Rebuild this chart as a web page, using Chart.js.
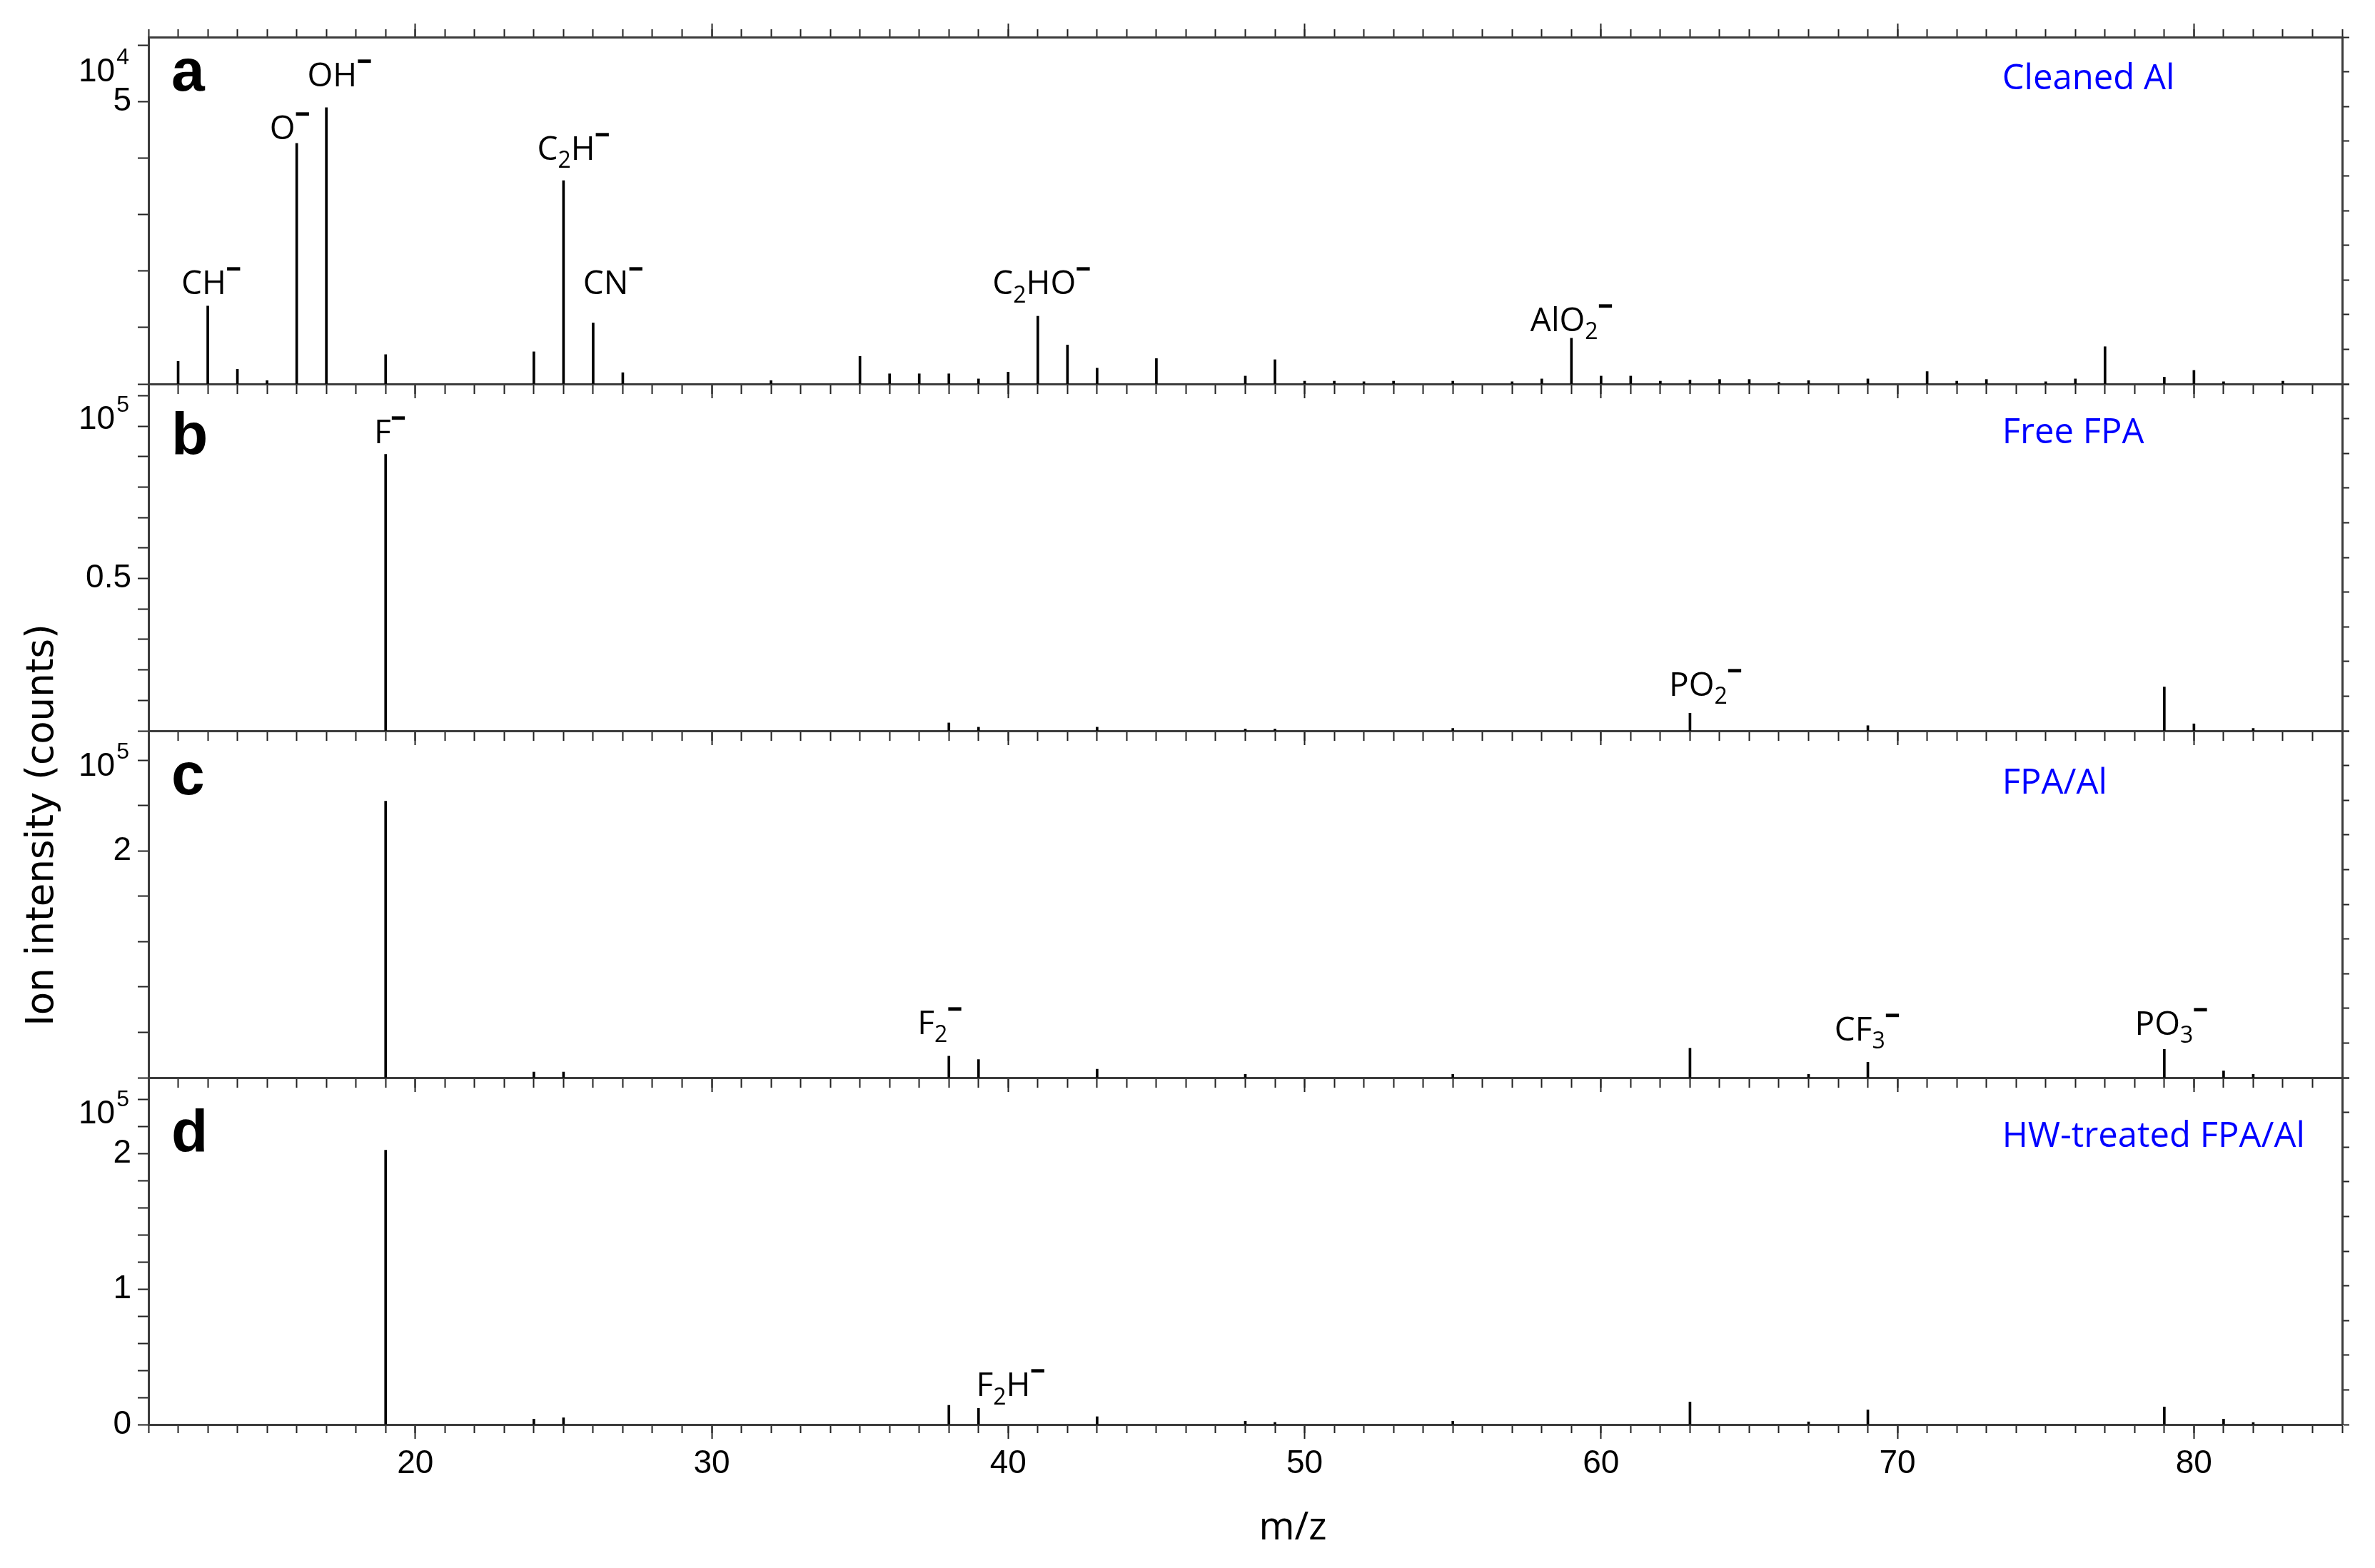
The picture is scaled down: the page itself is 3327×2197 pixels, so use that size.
<!DOCTYPE html>
<html>
<head>
<meta charset="utf-8">
<script src="https://cdn.jsdelivr.net/npm/chart.js@4.4.1/dist/chart.umd.min.js"></script>
<style>
html, body { margin: 0; padding: 0; background: #fff; }
canvas { display: block; }
</style>
</head>
<body>
<canvas id="mychart" width="3327" height="2197" style="width:3327px;height:2197px"></canvas>
<script>
// peaks of each spectrum: m/z and intensity (a in 10^4 counts, b-d in 10^5 counts)
var massA = [12,13,14,15,16,17,19,24,25,26,27,32,35,36,37,38,39,40,41,42,43,45,48,49,50,51,52,53,55,57,58,59,60,61,62,63,64,65,66,67,69,71,72,73,75,76,77,79,80,81,83];
var intA  = [0.40,1.38,0.26,0.06,4.26,4.89,0.52,0.57,3.60,1.08,0.20,0.06,0.49,0.18,0.18,0.18,0.09,0.21,1.20,0.69,0.28,0.45,0.14,0.43,0.05,0.05,0.04,0.05,0.05,0.04,0.09,0.81,0.14,0.14,0.05,0.07,0.08,0.08,0.03,0.06,0.09,0.22,0.05,0.08,0.04,0.09,0.66,0.12,0.24,0.04,0.05];

var massB = [19,38,39,43,48,49,55,63,69,79,80,82];
var intB  = [0.908,0.026,0.012,0.012,0.006,0.006,0.008,0.058,0.017,0.144,0.023,0.008];

var massC = [19,24,25,38,39,43,48,55,63,67,69,79,81,82];
var intC  = [2.44,0.05,0.05,0.19,0.16,0.075,0.03,0.03,0.26,0.03,0.136,0.25,0.06,0.03];

var massD = [19,24,25,38,39,43,48,49,55,63,67,69,79,81,82];
var intD  = [2.025,0.04,0.05,0.142,0.12,0.058,0.025,0.016,0.025,0.166,0.02,0.108,0.13,0.04,0.015];

// axes
var xMin = 11, xMax = 85;
var xLabels = [20, 30, 40, 50, 60, 70, 80];
var yMax = [6.14, 1.139, 3.06, 2.56];
var yStep = [1, 0.1, 0.4, 0.2];
var yLabels = [[5], [0.5], [2], [0, 1, 2]];
var yExponent = ['4', '5', '5', '5'];

// panel texts
var panelLetters = ['a', 'b', 'c', 'd'];
var sampleNames = ['Cleaned Al', 'Free FPA', 'FPA/Al', 'HW-treated FPA/Al'];

// peak assignments: text (_ = subscript, ^ = superscript), m/z and height where the label sits
var ionTextA = ['CH^-', 'O^-', 'OH^-', 'C_2H^-', 'CN^-', 'C_2HO^-', 'AlO_2^-'];
var ionMassA = [13.12, 15.77, 17.45, 25.34, 26.68, 41.13, 59.01];
var ionYA    = [1.59, 4.33, 5.27, 3.97, 1.59, 1.59, 0.94];
var ionTextB = ['F^-', 'PO_2^-'];
var ionMassB = [19.15, 63.53];
var ionYB    = [0.944, 0.115];
var ionTextC = ['F_2^-', 'CF_3^-', 'PO_3^-'];
var ionMassC = [37.70, 68.98, 79.24];
var ionYC    = [0.385, 0.33, 0.38];
var ionTextD = ['F_2H^-'];
var ionMassD = [40.09];
var ionYD    = [0.21];

var panelIds = ['yA', 'yB', 'yC', 'yD'];
var masses = [massA, massB, massC, massD];
var intensities = [intA, intB, intC, intD];
var ionText = [ionTextA, ionTextB, ionTextC, ionTextD];
var ionMass = [ionMassA, ionMassB, ionMassC, ionMassD];
var ionY = [ionYA, ionYB, ionYC, ionYD];

var axisColor = '#3c3c3c';
var tickColor = '#222';
var tickFont = {family: '"Liberation Sans", Arial, sans-serif', size: 46};

// pixel drops below each panel top for the corner texts
var letterDrop = [75, 99, 89, 104];
var exponentDrop = [62, 63, 63, 64];
var nameDrop = [73, 83, 88, 97];

var datasets = [];
for (var i = 0; i < 4; i++) {
  var pts = [];
  for (var j = 0; j < masses[i].length; j++) {
    pts.push({x: masses[i][j], y: intensities[i][j]});
  }
  datasets.push({
    label: sampleNames[i],
    data: pts,
    xAxisID: 'x',
    yAxisID: panelIds[i],
    backgroundColor: '#000',
    borderWidth: 0,
    barThickness: 3,
    grouped: false
  });
}

function hiddenX(pos, len, step, withBorder) {
  return {
    type: 'linear', axis: 'x', position: pos, min: xMin, max: xMax, offset: false,
    border: {display: withBorder, color: axisColor, width: 3},
    grid: {drawOnChartArea: false, offset: false, tickLength: len, tickColor: tickColor, tickWidth: 2},
    ticks: {display: false, stepSize: step, autoSkip: false, includeBounds: false}
  };
}

var scales = {
  x: {
    type: 'linear', position: 'bottom', min: xMin, max: xMax, offset: false,
    afterFit: function (s) { s.height = 201; },
    border: {display: true, color: axisColor, width: 3},
    grid: {drawOnChartArea: false, offset: false, tickLength: 12, tickColor: tickColor, tickWidth: 2},
    ticks: {
      stepSize: 1, autoSkip: false, includeBounds: false, maxRotation: 0, padding: 16,
      color: '#000', font: tickFont,
      callback: function (v) { return xLabels.indexOf(v) >= 0 ? String(v) : ''; }
    }
  }
};

var xTop = hiddenX('top', 11, 1, true);
xTop.afterFit = function (s) { s.height = 52; };
scales.xTop = xTop;
var topMajor = {};
topMajor[panelIds[0]] = yMax[0];
scales.xTopMajor = hiddenX(topMajor, -19, 10, false);

panelIds.forEach(function (id, i) {
  var at = {};
  at[id] = 0;
  if (i < 3) scales['xMinor' + i] = hiddenX(at, 12, 1, true);
  scales['xMajor' + i] = hiddenX(at, 20, 10, false);

  scales[id] = {
    type: 'linear', axis: 'y', position: 'left', stack: 'left', stackWeight: 1, weight: 4 - i,
    min: 0, max: yMax[i],
    afterFit: function (s) { s.width = 208; },
    border: {display: true, color: axisColor, width: 3},
    grid: {drawOnChartArea: false, tickLength: 15, tickColor: tickColor, tickWidth: 2},
    ticks: {
      stepSize: yStep[i], autoSkip: false, includeBounds: false, padding: 9,
      color: '#000', font: tickFont,
      callback: function (v) {
        return yLabels[i].some(function (s) { return Math.abs(s - v) < 1e-6; }) ? String(v) : '';
      }
    }
  };

  scales[id + 'R'] = {
    type: 'linear', axis: 'y', position: 'right', stack: 'right', stackWeight: 1, weight: i + 1,
    min: 0, max: 100,
    afterFit: function (s) { s.width = 46; },
    border: {display: true, color: axisColor, width: 3},
    grid: {drawOnChartArea: false, tickLength: 10, tickColor: tickColor, tickWidth: 2},
    ticks: {display: false, stepSize: 10, includeBounds: false}
  };
});

function drawFormula(ctx, text, cx, baseY, size) {
  var parts = [];
  for (var k = 0; k < text.length; k++) {
    var c = text.charAt(k);
    if (c === '_' || c === '^') {
      var n = text.charAt(k + 1);
      parts.push({t: n === '-' ? '\u2212' : n, k: c});
      k++;
    } else if (parts.length && parts[parts.length - 1].k === 'n') {
      parts[parts.length - 1].t += c;
    } else {
      parts.push({t: c, k: 'n'});
    }
  }
  function fontFor(kind) {
    if (kind === '_') return Math.round(size * 0.7) + 'px "Open Sans"';
    if (kind === '^') return '800 ' + Math.round(size * 0.8) + 'px "Open Sans"';
    return size + 'px "Open Sans"';
  }
  var total = 0;
  parts.forEach(function (p) {
    ctx.font = fontFor(p.k);
    p.w = ctx.measureText(p.t).width;
    total += p.w;
  });
  var x = cx - total / 2;
  ctx.textAlign = 'left';
  ctx.textBaseline = 'alphabetic';
  ctx.fillStyle = '#000';
  parts.forEach(function (p) {
    ctx.font = fontFor(p.k);
    var dy = p.k === '_' ? size * 0.25 : (p.k === '^' ? -size * 0.48 : 0);
    ctx.fillText(p.t, x, baseY + dy);
    x += p.w;
  });
}

var textPlugin = {
  id: 'texts',
  afterDraw: function (chart) {
    var ctx = chart.ctx;
    var xs = chart.scales.x;
    ctx.save();
    for (var i = 0; i < 4; i++) {
      var ys = chart.scales[panelIds[i]];
      var top = ys.top;

      ctx.fillStyle = '#000';
      ctx.textAlign = 'left';
      ctx.textBaseline = 'alphabetic';
      ctx.font = 'bold 84px "Liberation Sans", Arial, sans-serif';
      ctx.fillText(panelLetters[i], 240, top + letterDrop[i]);

      ctx.font = '46px "Liberation Sans", Arial, sans-serif';
      ctx.fillText('10', 110, top + exponentDrop[i]);
      var w10 = ctx.measureText('10').width;
      ctx.font = '32px "Liberation Sans", Arial, sans-serif';
      ctx.fillText(yExponent[i], 110 + w10 + 2, top + exponentDrop[i] - 24);

      ctx.fillStyle = '#0000ff';
      ctx.font = '49px "Open Sans"';
      ctx.fillText(sampleNames[i], xs.left + (xs.right - xs.left) * 0.845, top + nameDrop[i]);

      for (var j = 0; j < ionText[i].length; j++) {
        drawFormula(ctx, ionText[i][j], xs.getPixelForValue(ionMass[i][j]), ys.getPixelForValue(ionY[i][j]), 46);
      }
    }

    ctx.fillStyle = '#000';
    ctx.textAlign = 'center';
    ctx.textBaseline = 'alphabetic';
    ctx.font = '54px "Open Sans"';
    ctx.fillText('m/z', xs.getPixelForValue(49.6), 2157);

    ctx.translate(74, 1156);
    ctx.rotate(-Math.PI / 2);
    ctx.font = '53px "DejaVu Sans"';
    ctx.fillText('Ion intensity (counts)', 0, 0);
    ctx.restore();
  }
};

var chart = new Chart(document.getElementById('mychart').getContext('2d'), {
  type: 'bar',
  data: {datasets: datasets},
  options: {
    responsive: false,
    devicePixelRatio: 1,
    animation: false,
    events: [],
    layout: {padding: 0},
    plugins: {legend: {display: false}, tooltip: {enabled: false}},
    scales: scales
  },
  plugins: [textPlugin]
});
</script>
</body>
</html>
